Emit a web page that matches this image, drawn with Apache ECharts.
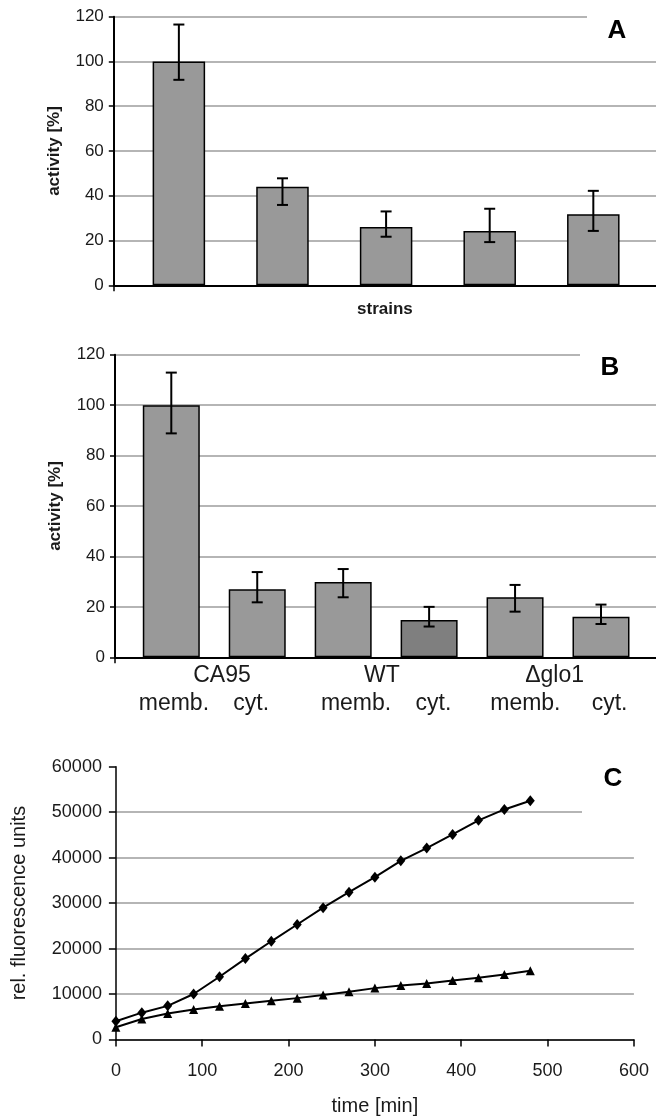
<!DOCTYPE html>
<html><head><meta charset="utf-8">
<script src="https://cdn.jsdelivr.net/npm/echarts@6/dist/echarts.min.js"></script>
<style>html,body{margin:0;padding:0;background:#fff}#c{width:656px;height:1120px}</style>
</head><body><div id="c"></div>
<script>
const FONT = "'Liberation Sans', Arial, Helvetica, sans-serif";

// ---------- Panel A ----------
const A_BARS      = [100, 44.0, 26.1, 24.3, 31.7];
const A_ERR_LOW   = [91.8, 35.9, 21.7, 19.3, 24.3];
const A_ERR_HIGH  = [116.5, 47.8, 33.0, 34.2, 42.2];
const A_X_TITLE   = 'strains';
const A_Y_TITLE   = 'activity [%]';

// ---------- Panel B ----------
const B_BARS      = [100, 27.0, 29.9, 14.8, 23.8, 16.1];
const B_ERR_LOW   = [88.8, 21.8, 23.8, 12.2, 18.1, 13.2];
const B_ERR_HIGH  = [112.9, 33.8, 35.0, 20.0, 28.7, 20.9];
const B_GROUPS    = ['CA95', 'WT', '\u0394glo1'];
const B_GROUP_AT  = [0.59, 2.45, 4.46];
const B_FRACTIONS = ['memb.', 'cyt.', 'memb.', 'cyt.', 'memb.', 'cyt.'];
const B_FRACTION_AT = [0.03, 0.93, 2.15, 3.05, 4.12, 5.10];
const B_Y_TITLE   = 'activity [%]';

// ---------- Panel C ----------
const C_TIME     = [0, 30, 60, 90, 120, 150, 180, 210, 240, 270, 300, 330, 360, 390, 420, 450, 480];
const C_DIAMOND  = [4000, 5900, 7400, 10000, 13800, 17800, 21600, 25300, 29000, 32400, 35700, 39300, 42100, 45100, 48200, 50600, 52500];
const C_TRIANGLE = [2700, 4500, 5700, 6600, 7300, 7900, 8500, 9100, 9800, 10500, 11300, 11900, 12300, 13000, 13600, 14300, 15100];
const C_X_TITLE  = 'time [min]';
const C_Y_TITLE  = 'rel. fluorescence units';

const PANEL_LETTERS = ['A', 'B', 'C'];

// ---------- styles ----------
const BAR_FILL = '#999999';
const BAR_FILL_DARK = '#7f7f7f';
const DARK_BAR_INDEX = 3;
const GRID_COLOR = '#9c9c9c';
const TEXT = '#1a1a1a';

function makeErrRender(lows, highs) {
  return function (params, api) {
    const i = params.dataIndex;
    const x = api.value(0);
    const pLo = api.coord([x, lows[i]]);
    const pHi = api.coord([x, highs[i]]);
    const w = 5.5;
    const style = { stroke: '#000', lineWidth: 2 };
    return { type: 'group', children: [
      { type: 'line', shape: { x1: pLo[0], y1: pLo[1], x2: pHi[0], y2: pHi[1] }, style },
      { type: 'line', shape: { x1: pLo[0] - w, y1: pLo[1], x2: pLo[0] + w, y2: pLo[1] }, style },
      { type: 'line', shape: { x1: pHi[0] - w, y1: pHi[1], x2: pHi[0] + w, y2: pHi[1] }, style }
    ]};
  };
}

const A_XMIN = -0.628, A_XMAX = 4.605;
const B_XMIN = -0.655, B_XMAX = 5.64;

function yAxisPct(gridIndex) {
  return {
    type: 'value', gridIndex, min: 0, max: 120, interval: 20,
    name: gridIndex === 0 ? A_Y_TITLE : B_Y_TITLE,
    nameLocation: 'middle', nameRotate: 90, nameGap: 51,
    nameTextStyle: { fontFamily: FONT, fontWeight: 'bold', fontSize: 17, color: TEXT },
    axisLine: { show: true, onZero: false, lineStyle: { color: '#000', width: 2 } },
    axisTick: { show: true, length: 5, lineStyle: { color: '#000', width: 1.5 } },
    axisLabel: { fontFamily: FONT, fontSize: 17, color: TEXT, margin: 10 },
    splitLine: { show: true, lineStyle: { color: GRID_COLOR, width: 1.5 } }
  };
}

const bMap = {};
B_FRACTION_AT.forEach((v, i) => { bMap[v] = B_FRACTIONS[i]; });
const gMap = {};
B_GROUP_AT.forEach((v, i) => { gMap[v] = B_GROUPS[i]; });

const option = {
  animation: false,
  backgroundColor: '#fff',
  grid: [
    { left: 113.8, right: 0, top: 16.7, bottom: 1120 - 285.3 },
    { left: 115, right: 0, top: 354.7, bottom: 1120 - 657.3 },
    { left: 115.9, right: 22.1, top: 766.7, bottom: 80.5 }
  ],
  xAxis: [
    { type: 'value', gridIndex: 0, min: A_XMIN, max: A_XMAX,
      name: A_X_TITLE, nameLocation: 'middle', nameGap: 16,
      nameTextStyle: { fontFamily: FONT, fontWeight: 'bold', fontSize: 17, color: TEXT },
      axisLine: { show: true, onZero: false, lineStyle: { color: '#000', width: 2 } },
      axisTick: { show: true, customValues: [A_XMIN], length: 6, lineStyle: { color: '#000', width: 1.5 } },
      axisLabel: { show: false }, splitLine: { show: false } },
    { type: 'value', gridIndex: 1, min: B_XMIN, max: B_XMAX, position: 'bottom',
      axisLine: { show: true, onZero: false, lineStyle: { color: '#000', width: 2 } },
      axisTick: { show: true, customValues: [B_XMIN], length: 6, lineStyle: { color: '#000', width: 1.5 } },
      axisLabel: { show: true, customValues: B_FRACTION_AT, formatter: v => bMap[v] || '',
        fontFamily: FONT, fontSize: 23, color: TEXT, margin: 35 },
      splitLine: { show: false } },
    { type: 'value', gridIndex: 1, min: B_XMIN, max: B_XMAX, position: 'bottom',
      axisLine: { show: false, onZero: false }, axisTick: { show: false },
      axisLabel: { show: true, customValues: B_GROUP_AT, formatter: v => gMap[v] || '',
        fontFamily: FONT, fontSize: 23, color: TEXT, margin: 7 },
      splitLine: { show: false } },
    { type: 'value', gridIndex: 2, min: 0, max: 600, interval: 100,
      name: C_X_TITLE, nameLocation: 'middle', nameGap: 57,
      nameTextStyle: { fontFamily: FONT, fontSize: 20, color: TEXT },
      axisLine: { show: true, onZero: false, lineStyle: { color: '#000', width: 1.5 } },
      axisTick: { show: true, length: 7, lineStyle: { color: '#000', width: 1.5 } },
      axisLabel: { fontFamily: FONT, fontSize: 18, color: TEXT, margin: 23 },
      splitLine: { show: false } }
  ],
  yAxis: [
    yAxisPct(0),
    yAxisPct(1),
    { type: 'value', gridIndex: 2, min: 0, max: 60000, interval: 10000,
      name: C_Y_TITLE, nameLocation: 'middle', nameRotate: 90, nameGap: 86,
      nameTextStyle: { fontFamily: FONT, fontSize: 20, color: TEXT },
      axisLine: { show: true, onZero: false, lineStyle: { color: '#000', width: 1.5 } },
      axisTick: { show: true, length: 7, lineStyle: { color: '#000', width: 1.5 } },
      axisLabel: { fontFamily: FONT, fontSize: 18, color: TEXT, margin: 14, formatter: v => String(v) },
      splitLine: { show: true, lineStyle: {
        color: [GRID_COLOR, GRID_COLOR, GRID_COLOR, GRID_COLOR, GRID_COLOR, GRID_COLOR, 'rgba(0,0,0,0)'], width: 1.5 } } }
  ],
  series: [
    { type: 'bar', xAxisIndex: 0, yAxisIndex: 0, barWidth: 52.5,
      data: A_BARS.map((v, i) => [i, v]),
      itemStyle: { color: BAR_FILL, borderColor: '#000', borderWidth: 1.5 } },
    { type: 'custom', xAxisIndex: 0, yAxisIndex: 0, z: 5, renderItem: makeErrRender(A_ERR_LOW, A_ERR_HIGH),
      encode: { x: 0, y: 1 },
      data: A_BARS.map((v, i) => [i, A_ERR_LOW[i]]) },
    { type: 'bar', xAxisIndex: 1, yAxisIndex: 1, barWidth: 57,
      data: B_BARS.map((v, i) => [i, v]),
      itemStyle: { color: p => (p.dataIndex === DARK_BAR_INDEX ? BAR_FILL_DARK : BAR_FILL), borderColor: '#000', borderWidth: 1.5 } },
    { type: 'custom', xAxisIndex: 1, yAxisIndex: 1, z: 5, renderItem: makeErrRender(B_ERR_LOW, B_ERR_HIGH),
      encode: { x: 0, y: 1 },
      data: B_BARS.map((v, i) => [i, B_ERR_LOW[i]]) },
    { type: 'line', xAxisIndex: 3, yAxisIndex: 2,
      data: C_TIME.map((t, i) => [t, C_DIAMOND[i]]),
      symbol: 'diamond', symbolSize: [9, 11], showAllSymbol: true,
      lineStyle: { color: '#000', width: 2 }, itemStyle: { color: '#000' } },
    { type: 'line', xAxisIndex: 3, yAxisIndex: 2,
      data: C_TIME.map((t, i) => [t, C_TRIANGLE[i]]),
      symbol: 'triangle', symbolSize: 9, showAllSymbol: true,
      lineStyle: { color: '#000', width: 2 }, itemStyle: { color: '#000' } }
  ],
  graphic: [
    { type: 'rect', z: 100, shape: { x: 587, y: 6, width: 69, height: 46 }, style: { fill: '#fff' } },
    { type: 'text', z: 101, x: 617, y: 30.5, style: { text: PANEL_LETTERS[0], font: 'bold 26px ' + FONT, fill: '#000', align: 'center', verticalAlign: 'middle' } },
    { type: 'rect', z: 100, shape: { x: 580, y: 344, width: 76, height: 50 }, style: { fill: '#fff' } },
    { type: 'text', z: 101, x: 610, y: 368.3, style: { text: PANEL_LETTERS[1], font: 'bold 26px ' + FONT, fill: '#000', align: 'center', verticalAlign: 'middle' } },
    { type: 'rect', z: 100, shape: { x: 582, y: 756, width: 74, height: 68 }, style: { fill: '#fff' } },
    { type: 'text', z: 101, x: 613, y: 779, style: { text: PANEL_LETTERS[2], font: 'bold 26px ' + FONT, fill: '#000', align: 'center', verticalAlign: 'middle' } }
  ]
};

const chart = echarts.init(document.getElementById('c'), null, { renderer: 'canvas' });
chart.setOption(option);
</script>
</body></html>
